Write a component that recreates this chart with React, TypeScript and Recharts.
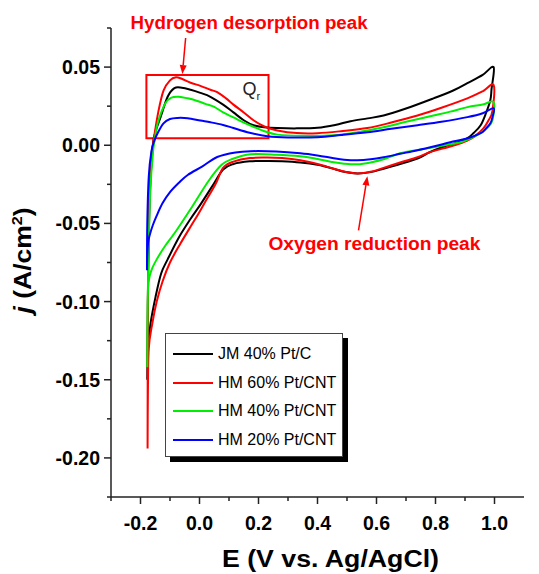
import React from "react";
import { LineChart, Line, XAxis, YAxis, Legend, ReferenceArea, ReferenceLine, ReferenceDot } from "recharts";

const seriesNames = ["JM 40% Pt/C", "HM 60% Pt/CNT", "HM 40% Pt/CNT", "HM 20% Pt/CNT"];
const seriesColors = ["#000000", "#ff0000", "#00ee00", "#0000ff"];

// each loop: anodic sweep (-0.18 -> 1.0 V) then cathodic sweep back
const jmE = [
  -0.177, -0.176, -0.174, -0.168, -0.158, -0.15, -0.132, -0.108, -0.085, -0.06, -0.03, 0.003, 0.037, 0.08, 0.115, 0.15,
  0.183, 0.22, 0.264, 0.33, 0.4, 0.46, 0.512, 0.57, 0.624, 0.7, 0.793, 0.86, 0.908, 0.96, 0.997,
  0.99, 0.986, 0.97, 0.953, 0.93, 0.908, 0.87, 0.827, 0.78, 0.739, 0.68, 0.624, 0.58, 0.535, 0.49, 0.455, 0.4, 0.342,
  0.28, 0.23, 0.17, 0.115, 0.08, 0.044, 0.003, -0.03, -0.07, -0.108, -0.13, -0.149, -0.166, -0.174, -0.177,
];
const jmJ = [
  -0.15, -0.12, -0.08, -0.03, 0.0, 0.008, 0.018, 0.031, 0.0365, 0.0368, 0.0355, 0.0335, 0.031, 0.026, 0.021, 0.016,
  0.0128, 0.0115, 0.011, 0.0108, 0.0112, 0.013, 0.0154, 0.0172, 0.019, 0.0235, 0.03, 0.035, 0.0397, 0.045, 0.05,
  0.036, 0.029, 0.02, 0.0128, 0.008, 0.0045, 0.0015, -0.001, -0.0045, -0.0085, -0.012, -0.015, -0.0172, -0.018, -0.017,
  -0.015, -0.0125, -0.011, -0.0102, -0.01, -0.0103, -0.012, -0.0155, -0.026, -0.038, -0.047, -0.059, -0.073, -0.082,
  -0.097, -0.114, -0.13, -0.15,
];

const hm60E = [
  -0.176, -0.175, -0.172, -0.165, -0.155, -0.139, -0.122, -0.1, -0.08, -0.06, -0.03, 0.003, 0.037, 0.06, 0.09, 0.115,
  0.15, 0.183, 0.22, 0.264, 0.33, 0.4, 0.48, 0.569, 0.65, 0.739, 0.82, 0.908, 0.96, 0.997,
  0.993, 0.98, 0.963, 0.935, 0.908, 0.87, 0.827, 0.78, 0.739, 0.68, 0.624, 0.58, 0.535, 0.49, 0.455, 0.4, 0.342, 0.28,
  0.23, 0.17, 0.115, 0.08, 0.054, 0.02, -0.003, -0.03, -0.065, -0.1, -0.125, -0.145, -0.16, -0.172, -0.175, -0.176,
];
const hm60J = [
  -0.194, -0.1, -0.04, -0.01, 0.004, 0.022, 0.035, 0.0415, 0.0435, 0.0425, 0.04, 0.038, 0.0355, 0.034, 0.03, 0.026,
  0.021, 0.016, 0.012, 0.0095, 0.0078, 0.0077, 0.009, 0.011, 0.0145, 0.019, 0.024, 0.03, 0.0345, 0.0385,
  0.022, 0.016, 0.011, 0.006, 0.003, 0.0003, -0.002, -0.0045, -0.0077, -0.011, -0.0145, -0.017, -0.018, -0.0168, -0.015,
  -0.012, -0.0096, -0.0082, -0.0079, -0.0082, -0.0105, -0.0145, -0.025, -0.036, -0.0436, -0.052, -0.063, -0.075,
  -0.087, -0.1, -0.114, -0.13, -0.16, -0.194,
];

const hm40E = [
  -0.177, -0.176, -0.173, -0.167, -0.158, -0.15, -0.139, -0.115, -0.095, -0.07, -0.04, -0.01, 0.02, 0.05, 0.08, 0.115,
  0.15, 0.183, 0.22, 0.264, 0.35, 0.455, 0.54, 0.624, 0.7, 0.793, 0.85, 0.908, 0.96, 0.997,
  0.993, 0.975, 0.953, 0.92, 0.885, 0.84, 0.793, 0.74, 0.681, 0.624, 0.58, 0.535, 0.49, 0.455, 0.4, 0.342, 0.26, 0.173,
  0.111, 0.075, 0.03, -0.024, -0.08, -0.115, -0.145, -0.163, -0.173, -0.176, -0.177,
];
const hm40J = [
  -0.142, -0.11, -0.07, -0.03, -0.005, 0.006, 0.016, 0.027, 0.0305, 0.031, 0.03, 0.0285, 0.0265, 0.0245, 0.021, 0.0178,
  0.0145, 0.0118, 0.009, 0.0068, 0.006, 0.0064, 0.0085, 0.0115, 0.015, 0.019, 0.0215, 0.0244, 0.026, 0.0276,
  0.016, 0.011, 0.0077, 0.0045, 0.0019, 0.0003, -0.0013, -0.003, -0.0051, -0.009, -0.011, -0.0122, -0.0118, -0.0109,
  -0.0088, -0.007, -0.006, -0.0058, -0.0088, -0.0125, -0.023, -0.039, -0.055, -0.064, -0.073, -0.08, -0.088, -0.105,
  -0.142,
];

const hm20E = [
  -0.178, -0.177, -0.172, -0.163, -0.153, -0.142, -0.122, -0.1, -0.075, -0.04, 0.003, 0.037, 0.08, 0.115, 0.17, 0.23,
  0.3, 0.4, 0.48, 0.569, 0.65, 0.739, 0.82, 0.908, 0.96, 0.997,
  0.993, 0.986, 0.97, 0.953, 0.91, 0.85, 0.8, 0.739, 0.68, 0.624, 0.58, 0.535, 0.49, 0.455, 0.4, 0.342, 0.26, 0.173,
  0.122, 0.06, 0.01, -0.04, -0.07, -0.1, -0.125, -0.145, -0.158, -0.168, -0.174, -0.177, -0.178,
];
const hm20J = [
  -0.08, -0.05, -0.02, -0.004, 0.003, 0.0077, 0.014, 0.0168, 0.0175, 0.0173, 0.0158, 0.0147, 0.013, 0.011, 0.008, 0.0058,
  0.005, 0.0051, 0.0065, 0.0083, 0.0105, 0.0128, 0.015, 0.018, 0.0205, 0.0237,
  0.018, 0.014, 0.0105, 0.0077, 0.0045, 0.0019, -0.0005, -0.0032, -0.0055, -0.0077, -0.009, -0.0096, -0.0092, -0.0083,
  -0.0065, -0.0051, -0.004, -0.0038, -0.0046, -0.0075, -0.0135, -0.019, -0.024, -0.03, -0.037, -0.045, -0.051, -0.057,
  -0.062, -0.071, -0.08,
];

const xTicks = [-0.3, -0.2, -0.1, 0, 0.1, 0.2, 0.3, 0.4, 0.5, 0.6, 0.7, 0.8, 0.9, 1.0];
const yTicks = [-0.225, -0.2, -0.175, -0.15, -0.125, -0.1, -0.075, -0.05, -0.025, 0, 0.025, 0.05, 0.075];

const zip = (e: number[], j: number[]) => e.map((x, i) => ({ x, y: j[i] }));
const series = [zip(jmE, jmJ), zip(hm60E, hm60J), zip(hm40E, hm40J), zip(hm20E, hm20J)];

// catmull-rom through the points, works for closed CV loops (x not monotone)
function loopCurve(context: any) {
  let pts: number[][] = [];
  return {
    areaStart() {},
    areaEnd() {},
    lineStart() {
      pts = [];
    },
    point(x: number, y: number) {
      pts.push([+x, +y]);
    },
    lineEnd() {
      if (!pts.length) return;
      context.moveTo(pts[0][0], pts[0][1]);
      for (let i = 0; i < pts.length - 1; i++) {
        const p0 = pts[Math.max(i - 1, 0)];
        const p1 = pts[i];
        const p2 = pts[i + 1];
        const p3 = pts[Math.min(i + 2, pts.length - 1)];
        context.bezierCurveTo(
          p1[0] + (p2[0] - p0[0]) / 6,
          p1[1] + (p2[1] - p0[1]) / 6,
          p2[0] - (p3[0] - p1[0]) / 6,
          p2[1] - (p3[1] - p1[1]) / 6,
          p2[0],
          p2[1]
        );
      }
    },
  };
}

const axisColor = "#222";

function XTick(props: any) {
  const { x, y, payload } = props;
  const v = payload.value;
  const major = Math.round(v * 10) % 2 === 0;
  return (
    <g>
      <line x1={x} y1={y} x2={x} y2={y + (major ? 7 : 4)} stroke={axisColor} strokeWidth={1.5} />
      {major && (
        <text x={x} y={y + 33} textAnchor="middle" fontSize={19.5} fontWeight="bold" fill="#000">
          {v.toFixed(1)}
        </text>
      )}
    </g>
  );
}

function YTick(props: any) {
  const { x, y, payload } = props;
  const v = payload.value;
  const major = Math.round(v * 1000) % 50 === 0;
  return (
    <g>
      <line x1={x - (major ? 7 : 4)} y1={y} x2={x} y2={y} stroke={axisColor} strokeWidth={1.5} />
      {major && (
        <text x={x - 11} y={y + 7} textAnchor="end" fontSize={19.5} fontWeight="bold" fill="#000">
          {v.toFixed(2)}
        </text>
      )}
    </g>
  );
}

function Arrow(props: any) {
  const { x1, y1, x2, y2 } = props;
  const a = Math.atan2(y2 - y1, x2 - x1);
  const bx = x2 - 9 * Math.cos(a);
  const by = y2 - 9 * Math.sin(a);
  const px = -Math.sin(a) * 3.5;
  const py = Math.cos(a) * 3.5;
  return (
    <g>
      <line x1={x1} y1={y1} x2={bx} y2={by} stroke="#ff0000" strokeWidth={1.5} />
      <polygon points={`${x2},${y2} ${bx + px},${by + py} ${bx - px},${by - py}`} fill="#ff0000" />
    </g>
  );
}

function renderLegend(props: any) {
  const items = [...(props.payload || [])].sort(
    (a: any, b: any) => seriesNames.indexOf(a.value) - seriesNames.indexOf(b.value)
  );
  return (
    <div
      style={{
        width: 178,
        height: 124,
        boxSizing: "border-box",
        border: "1px solid #444",
        background: "#fff",
        boxShadow: "5px 5px 0 #000",
        padding: "6px 0 0 7px",
      }}
    >
      {items.map((p: any) => (
        <div key={p.value} style={{ display: "flex", alignItems: "center", height: 28.5 }}>
          <span style={{ display: "inline-block", width: 40, borderTop: `2px solid ${p.color}`, marginRight: 5 }} />
          <span style={{ fontSize: 16, color: "#000", whiteSpace: "nowrap" }}>{p.value}</span>
        </div>
      ))}
    </div>
  );
}

export default function App() {
  return (
    <div
      style={{
        position: "absolute",
        left: 0,
        top: 0,
        width: 539,
        height: 574,
        background: "#fff",
        fontFamily: '"Liberation Sans", Arial, sans-serif',
      }}
    >
      <LineChart width={539} height={574} margin={{ top: 28, right: 15, bottom: 17, left: 0 }}>
        <XAxis
          type="number"
          dataKey="x"
          domain={[-0.3, 1.1]}
          ticks={xTicks}
          interval={0}
          allowDataOverflow
          height={60}
          tickSize={0}
          tickMargin={0}
          tickLine={false}
          tick={XTick}
          axisLine={{ stroke: axisColor, strokeWidth: 1.5 }}
          label={(p: any) => {
            const vb = p.viewBox;
            return (
              <text
                x={vb.x + vb.width / 2 + 13}
                y={vb.y + 70}
                textAnchor="middle"
                fontSize={23}
                fontWeight="bold"
                textLength={217}
                lengthAdjust="spacingAndGlyphs"
                fill="#000"
              >
                E (V vs. Ag/AgCl)
              </text>
            );
          }}
        />
        <YAxis
          type="number"
          domain={[-0.225, 0.075]}
          ticks={yTicks}
          interval={0}
          allowDataOverflow
          width={111}
          tickSize={0}
          tickMargin={0}
          tickLine={false}
          tick={YTick}
          axisLine={{ stroke: axisColor, strokeWidth: 1.5 }}
          label={(p: any) => {
            const vb = p.viewBox;
            const cx = 31;
            const cy = vb.y + vb.height / 2 - 2;
            return (
              <text
                x={cx}
                y={cy}
                transform={`rotate(-90 ${cx} ${cy})`}
                textAnchor="middle"
                fontSize={23}
                fontWeight="bold"
                textLength={106}
                lengthAdjust="spacingAndGlyphs"
                fill="#000"
              >
                <tspan fontStyle="italic">j</tspan>
                <tspan> (A/cm</tspan>
                <tspan fontSize={14} dy={-9}>2</tspan>
                <tspan dy={9}>)</tspan>
              </text>
            );
          }}
        />
        <ReferenceArea
          x1={-0.18}
          x2={0.234}
          y1={0.0045}
          y2={0.0449}
          fill="none"
          fillOpacity={0}
          stroke="#ff0000"
          strokeWidth={2}
          ifOverflow="visible"
        />
        {series.map((d, i) => (
          <Line
            key={seriesNames[i]}
            data={d}
            dataKey="y"
            name={seriesNames[i]}
            stroke={seriesColors[i]}
            strokeWidth={2}
            type={loopCurve as any}
            dot={false}
            activeDot={false}
            isAnimationActive={false}
          />
        ))}
        <ReferenceLine
          segment={[
            { x: -0.047, y: 0.0686 },
            { x: -0.058, y: 0.0455 },
          ]}
          ifOverflow="visible"
          shape={Arrow}
        />
        <ReferenceLine
          segment={[
            { x: 0.539, y: -0.0545 },
            { x: 0.569, y: -0.0199 },
          ]}
          ifOverflow="visible"
          shape={Arrow}
        />
        <ReferenceDot
          x={0.168}
          y={0.0744}
          ifOverflow="visible"
          shape={(p: any) => (
            <text
              x={p.cx}
              y={p.cy}
              textAnchor="middle"
              fontSize={17.5}
              fontWeight="bold"
              fill="#ff0000"
              textLength={237}
              lengthAdjust="spacingAndGlyphs"
            >
              Hydrogen desorption peak
            </text>
          )}
        />
        <ReferenceDot
          x={0.593}
          y={-0.0667}
          ifOverflow="visible"
          shape={(p: any) => (
            <text
              x={p.cx}
              y={p.cy}
              textAnchor="middle"
              fontSize={17.5}
              fontWeight="bold"
              fill="#ff0000"
              textLength={212}
              lengthAdjust="spacingAndGlyphs"
            >
              Oxygen reduction peak
            </text>
          )}
        />
        <ReferenceDot
          x={0.146}
          y={0.032}
          ifOverflow="visible"
          shape={(p: any) => (
            <text x={p.cx} y={p.cy} fontSize={18} fill="#222">
              Q
              <tspan fontSize={11} dy={5}>
                r
              </tspan>
            </text>
          )}
        />
        <Legend
          layout="horizontal"
          verticalAlign="middle"
          align="center"
          content={renderLegend}
          wrapperStyle={{ left: 165, top: 333, width: 178, height: 124 }}
        />
      </LineChart>
    </div>
  );
}
